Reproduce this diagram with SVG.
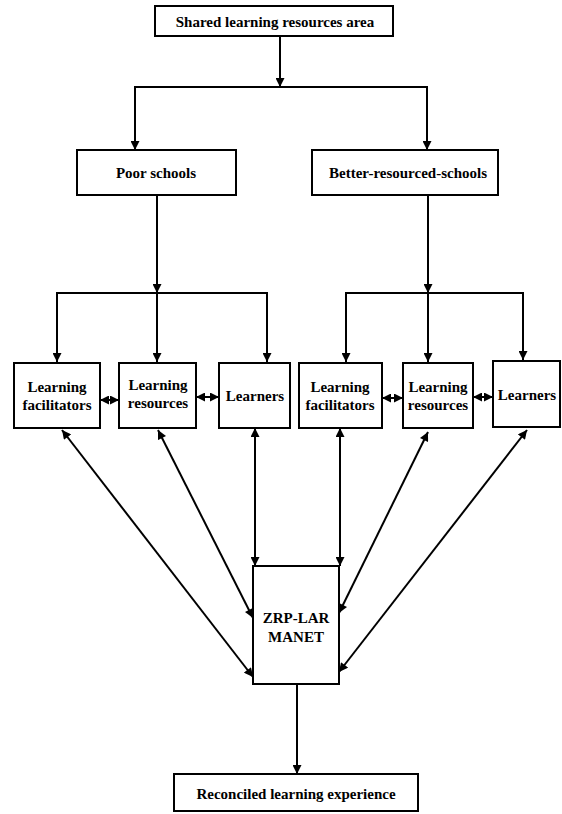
<svg xmlns="http://www.w3.org/2000/svg" width="562" height="814" viewBox="0 0 562 814">
<style>
.box{fill:#fff;stroke:#000;stroke-width:2}
.t{font-family:"Liberation Serif","Times New Roman",serif;font-size:15px;font-weight:bold;fill:#000;text-anchor:middle}
.c{fill:none;stroke:#000;stroke-width:2}
</style>
<defs>
<marker id="ah" viewBox="0 0 10 10" refX="10" refY="5" markerWidth="10" markerHeight="9" markerUnits="userSpaceOnUse" orient="auto-start-reverse">
<path d="M0,0 L10,5 L0,10 z" fill="#000"/>
</marker>
</defs>
<rect width="562" height="814" fill="#fff"/>
<g id="connectors">
<path class="c" d="M280,36 V87" marker-end="url(#ah)"/>
<path class="c" d="M135,150 V87 H427 V150" marker-start="url(#ah)" marker-end="url(#ah)"/>
<path class="c" d="M157,195 V293" marker-end="url(#ah)"/>
<path class="c" d="M57,362 V293 H267 V362" marker-start="url(#ah)" marker-end="url(#ah)"/>
<path class="c" d="M157,293 V362" marker-end="url(#ah)"/>
<path class="c" d="M428,195 V293" marker-end="url(#ah)"/>
<path class="c" d="M346,362 V293 H523 V360" marker-start="url(#ah)" marker-end="url(#ah)"/>
<path class="c" d="M428,293 V362" marker-end="url(#ah)"/>
<path class="c" d="M100,400 H119" marker-start="url(#ah)" marker-end="url(#ah)"/>
<path class="c" d="M196,397 H219" marker-start="url(#ah)" marker-end="url(#ah)"/>
<path class="c" d="M382,398 H403" marker-start="url(#ah)" marker-end="url(#ah)"/>
<path class="c" d="M473,397 H493" marker-start="url(#ah)" marker-end="url(#ah)"/>
<path class="c" d="M62,430 L253,677" marker-start="url(#ah)" marker-end="url(#ah)"/>
<path class="c" d="M158,430 L253,618" marker-start="url(#ah)" marker-end="url(#ah)"/>
<path class="c" d="M255,428 V566" marker-start="url(#ah)" marker-end="url(#ah)"/>
<path class="c" d="M340,428 V566" marker-start="url(#ah)" marker-end="url(#ah)"/>
<path class="c" d="M428,432 L339,613" marker-start="url(#ah)" marker-end="url(#ah)"/>
<path class="c" d="M527,430 L339,672" marker-start="url(#ah)" marker-end="url(#ah)"/>
<path class="c" d="M297,684 V774" marker-end="url(#ah)"/>
</g>
<g id="shared">
<rect class="box" x="155" y="6" width="238" height="30"/>
<text class="t" x="275" y="27">Shared learning resources area</text>
</g>
<g id="poor">
<rect class="box" x="77" y="150" width="159" height="45"/>
<text class="t" x="156" y="178">Poor schools</text>
</g>
<g id="better">
<rect class="box" x="312" y="150" width="186" height="45"/>
<text class="t" x="408" y="178">Better-resourced-schools</text>
</g>
<g id="lf1">
<rect class="box" x="14" y="363" width="86" height="65"/>
<text class="t" x="57" y="392">Learning</text>
<text class="t" x="57" y="410">facilitators</text>
</g>
<g id="lr1">
<rect class="box" x="119" y="363" width="77" height="65"/>
<text class="t" x="158" y="390">Learning</text>
<text class="t" x="158" y="408">resources</text>
</g>
<g id="l1">
<rect class="box" x="219" y="363" width="71" height="65"/>
<text class="t" x="255" y="401">Learners</text>
</g>
<g id="lf2">
<rect class="box" x="299" y="363" width="83" height="65"/>
<text class="t" x="340" y="392">Learning</text>
<text class="t" x="340" y="410">facilitators</text>
</g>
<g id="lr2">
<rect class="box" x="403" y="363" width="70" height="65"/>
<text class="t" x="438" y="392">Learning</text>
<text class="t" x="438" y="410">resources</text>
</g>
<g id="l2">
<rect class="box" x="493" y="361" width="67" height="66"/>
<text class="t" x="527" y="400">Learners</text>
</g>
<g id="zrp">
<rect class="box" x="253" y="566" width="86" height="118"/>
<text class="t" x="296" y="623">ZRP-LAR</text>
<text class="t" x="296" y="642">MANET</text>
</g>
<g id="reconciled">
<rect class="box" x="174" y="774" width="244" height="37"/>
<text class="t" x="296" y="799">Reconciled learning experience</text>
</g>
</svg>
